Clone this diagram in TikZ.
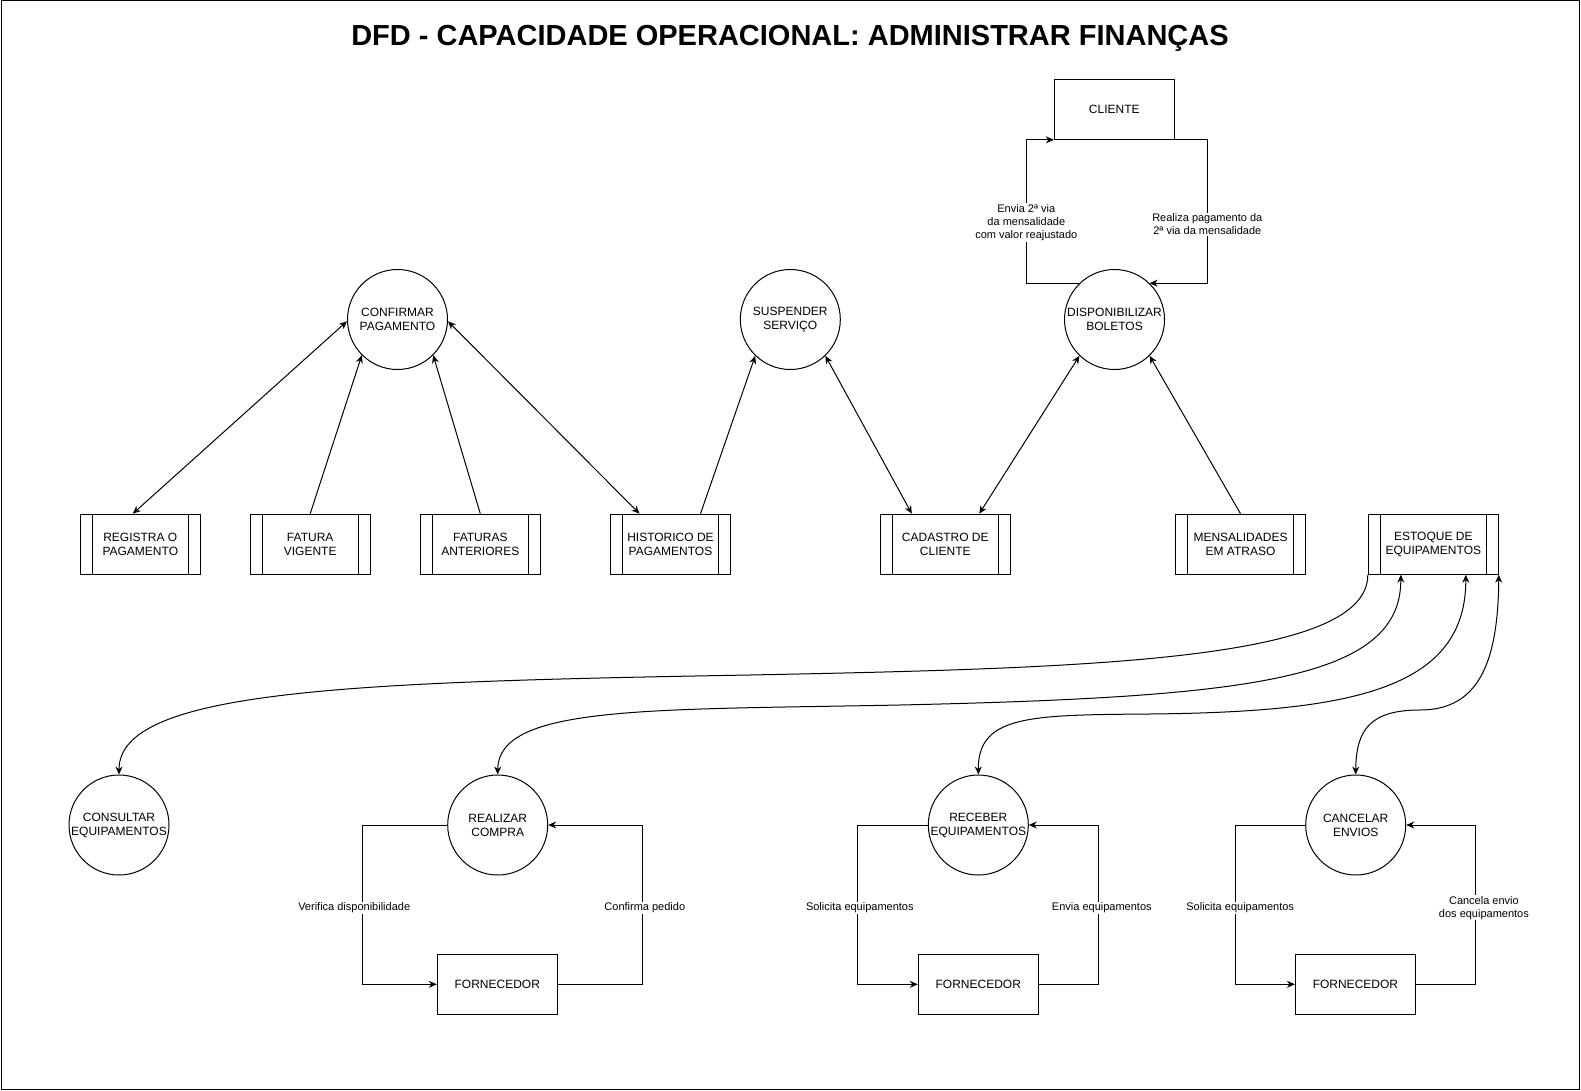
\documentclass[tikz,border=0pt]{standalone}
\usepackage{fontspec}
\setmainfont{Liberation Sans}
\usetikzlibrary{arrows.meta,calc}
\begin{document}
\begin{tikzpicture}[x=1pt,y=-1pt,
  every node/.style={font=\fontsize{12}{14}\selectfont, align=center},
  proc/.style={circle,draw,minimum size=100pt,inner sep=0pt,line width=1pt},
  store/.style={rectangle,draw,minimum width=120pt,minimum height=60pt,inner sep=0pt,line width=1pt,
    path picture={\draw[line width=1pt]
      ([xshift=12pt]path picture bounding box.north west) -- ([xshift=12pt]path picture bounding box.south west)
      ([xshift=-12pt]path picture bounding box.north east) -- ([xshift=-12pt]path picture bounding box.south east);}},
  wstore/.style={store,minimum width=130pt},
  ent/.style={rectangle,draw,minimum width=120pt,minimum height=60pt,inner sep=0pt,line width=1pt},
  flow/.style={line width=1pt,-{Stealth[length=8pt,width=7pt]}},
  biflow/.style={line width=1pt,{Stealth[length=8pt,width=7pt]}-{Stealth[length=8pt,width=7pt]}},
  lbl/.style={font=\fontsize{11}{13}\selectfont, fill=white, inner sep=1pt}
]
\useasboundingbox (0,0) rectangle (1581,1091);
\draw[line width=1pt] (1,1) rectangle (1579,1089);

\node[font=\fontsize{29}{33}\selectfont\bfseries] (title) at (790,38) {DFD - CAPACIDADE OPERACIONAL: ADMINISTRAR FINANÇAS};

% processes
\node[proc] (cp) at (397.5,319.5) {CONFIRMAR\\PAGAMENTO};
\node[proc] (ss) at (790.3,319.5) {SUSPENDER\\SERVIÇO};
\node[proc] (db) at (1114.5,319.5) {DISPONIBILIZAR\\BOLETOS};
\node[proc] (cons) at (119,825) {CONSULTAR\\EQUIPAMENTOS};
\node[proc] (real) at (497.7,825) {REALIZAR\\COMPRA};
\node[proc] (recv) at (978.3,825) {RECEBER\\EQUIPAMENTOS};
\node[proc] (canc) at (1355.7,825) {CANCELAR\\ENVIOS};

% stores
\node[store] (reg) at (140.3,544.2) {REGISTRA O\\PAGAMENTO};
\node[store] (fv) at (310.2,544.2) {FATURA\\VIGENTE};
\node[store] (fa) at (480.3,544.2) {FATURAS\\ANTERIORES};
\node[store] (hist) at (670.5,544.2) {HISTORICO DE\\PAGAMENTOS};
\node[wstore] (cad) at (945.3,544.2) {CADASTRO DE\\CLIENTE};
\node[wstore] (mens) at (1240.5,544.2) {MENSALIDADES\\EM ATRASO};
\node[wstore] (est) at (1433.3,544.2) {ESTOQUE DE\\EQUIPAMENTOS};

% entities
\node[ent] (cli) at (1114.3,109.3) {CLIENTE};
\node[ent] (f1) at (497.3,984.3) {FORNECEDOR};
\node[ent] (f2) at (978.3,984.3) {FORNECEDOR};
\node[ent] (f3) at (1355.4,984.3) {FORNECEDOR};

% upper flows
\draw[biflow] ([xshift=-7.5pt]reg.north) -- (cp.182);
\draw[flow] (fv.north) -- (cp.225);
\draw[flow] (fa.north) -- (cp.315);
\draw[biflow] (cp.358) -- ([xshift=-31pt]hist.north);
\draw[flow] ([xshift=30pt]hist.north) -- (ss.226);
\draw[biflow] (ss.314) -- ([xshift=-33.5pt]cad.north);
\draw[biflow] (db.226) -- ([xshift=34pt]cad.north);
\draw[flow] (mens.north) -- (db.314);

% cliente loop
\draw[flow] (db.134) -| node[lbl,pos=0.712]{Envia 2ª via\\da mensalidade\\com valor reajustado} ($(cli.south west)+(-27.5,0)$) -- (cli.south west);
\draw[flow] (cli.south east) -- ++(32.5,0) |- node[lbl,pos=0.295]{Realiza pagamento da\\2ª via da mensalidade} (db.46);

% fornecedor loops
\draw[flow] (real.west) -- ++(-85,0) |- node[lbl,pos=0.25,xshift=-8pt,yshift=-3pt]{Verifica disponibilidade} (f1.west);
\draw[flow] (f1.east) -- ++(85,0) |- node[lbl,pos=0.25,xshift=2pt,yshift=-3pt]{Confirma pedido} (real.east);
\draw[flow] (recv.west) -- ++(-70,0) |- node[lbl,pos=0.25,xshift=2pt,yshift=-3pt]{Solicita equipamentos} (f2.west);
\draw[flow] (f2.east) -- ++(60,0) |- node[lbl,pos=0.25,xshift=3pt,yshift=-3pt]{Envia equipamentos} (recv.east);
\draw[flow] (canc.west) -- ++(-70,0) |- node[lbl,pos=0.25,xshift=5pt,yshift=-3pt]{Solicita equipamentos} (f3.west);
\draw[flow] (f3.east) -- ++(60,0) |- node[lbl,pos=0.25,xshift=8pt,yshift=-3pt]{Cancela envio\\dos equipamentos} (canc.east);

% estoque curves
\draw[flow] (est.south west) .. controls (1368,660) and (1100,668) .. (750,675) .. controls (350,682) and (119,690) .. (cons.north);
\draw[biflow] ([xshift=-32.5pt]est.south) .. controls (1401,680) and (1250,697) .. (900,705) .. controls (650,710) and (498,705) .. (real.north);
\draw[biflow] ([xshift=32.5pt]est.south) .. controls (1466,690) and (1350,712) .. (1150,714) .. controls (1030,715) and (978,715) .. (recv.north);
\draw[biflow] (est.south east) .. controls (1498,660) and (1480,710) .. (1420,710) .. controls (1370,710) and (1356,730) .. (canc.north);
\end{tikzpicture}
\end{document}
